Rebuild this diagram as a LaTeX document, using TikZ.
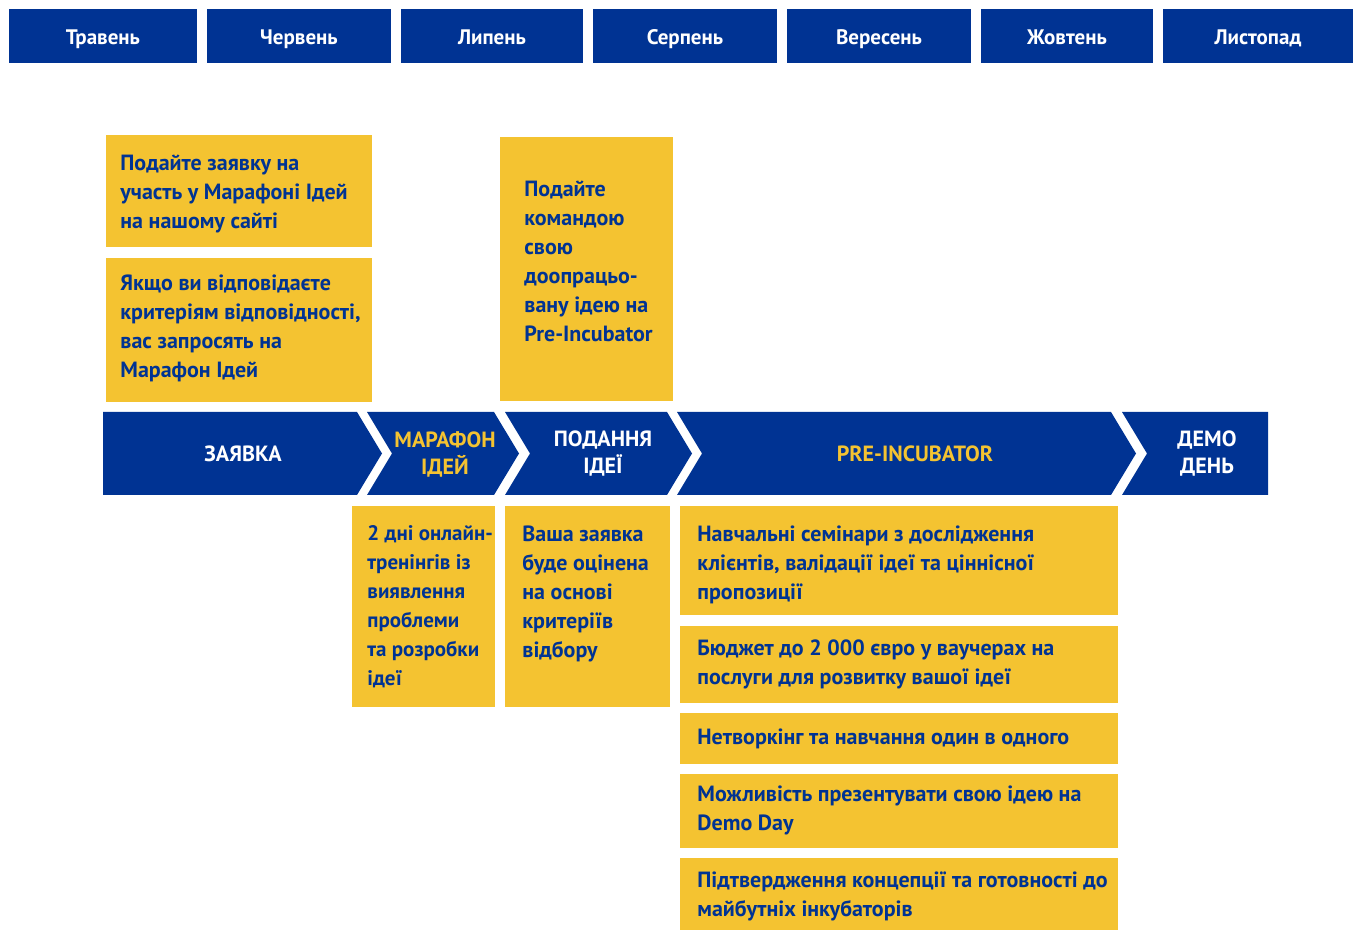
\documentclass[tikz,border=0pt]{standalone}
\usepackage{fontspec}
\setmainfont{PT Sans}
\usetikzlibrary{positioning}
\definecolor{PlanBlue}{HTML}{003393}
\definecolor{PlanGold}{HTML}{F4C331}
\tikzset{
  month/.style={fill=PlanBlue, text=white, inner sep=0pt, minimum height=27pt,
    text height=10.5pt, text depth=2pt,
    font=\bfseries\fontsize{10.5}{12}\selectfont},
  stage/.style={align=center, inner sep=0pt,
    font=\bfseries\fontsize{11}{13.5}\selectfont},
  card/.style={fill=PlanGold, inner sep=0pt, anchor=north west},
  cardtext/.style={align=left, text=PlanBlue, inner sep=0pt,
    font=\bfseries\fontsize{11}{14.5}\selectfont}
}
\begin{document}
\begin{tikzpicture}[x=0.5pt, y=-0.5pt]
  \useasboundingbox (0,0) rectangle (1356,930);
  % months
  \foreach \a/\b/\m [count=\i] in {9/197/Травень, 207/391/Червень, 401/583/Липень,
      593/777/Серпень, 787/971/Вересень, 981/1153/Жовтень, 1163/1353/Листопад}
    \node[month, minimum width=(\b-\a)*0.5pt] (month-\i) at ({(\a+\b)/2},36) {\m};
  % stages
  \foreach \l/\r/\dl/\dr/\c/\x/\txt [count=\i] in {
      103/357/0/25/white/243/ЗАЯВКА,
      367/494/25/25/PlanGold/445/{МАРАФОН\\ІДЕЙ},
      505/667/25/25/white/603/{ПОДАННЯ\\ІДЕЇ},
      677/1111/25/25/PlanGold/915/PRE-INCUBATOR,
      1122/1268/25/0/white/1207/{ДЕМО\\ДЕНЬ}} {
    \fill[PlanBlue] (\l,412) -- (\r,412) -- ({\r+\dr},453.5) -- (\r,495)
      -- (\l,495) -- ({\l+\dl},453.5) -- cycle;
    \node[stage, text=\c] (stage-\i) at (\x,454) {\txt};
  }
  % cards above
  \node[card, minimum width=133pt, minimum height=56pt] (apply) at (106,135) {};
  \node[cardtext, right=7pt of apply.west, anchor=west, yshift=-1.5pt] (apply-text)
    {Подайте заявку на\\участь у Марафоні Ідей\\на нашому сайті};
  \node[card, minimum width=133pt, minimum height=72pt,
    below=5pt of apply.south west, anchor=north west] (invite) {};
  \node[cardtext, right=7pt of invite.west, anchor=west, yshift=1pt] (invite-text)
    {Якщо ви відповідаєте\\критеріям відповідності,\\вас запросять на\\Марафон Ідей};
  \node[card, minimum width=86.5pt, minimum height=132pt] (submit) at (500,137) {};
  \node[cardtext, below right=22pt and 12pt of submit.north west] (submit-text)
    {Подайте\\командою\\свою\\доопрацьо-\\вану ідею на\\Pre-Incubator};
  % cards below
  \node[card, minimum width=71.5pt, minimum height=100.5pt] (training) at (352,506) {};
  \node[cardtext, below right=9.5pt and 7.5pt of training.north west,
    font=\bfseries\fontsize{10.5}{14.5}\selectfont] (training-text)
    {2 дні онлайн-\\тренінгів із\\виявлення\\проблеми\\та розробки\\ідеї};
  \node[card, minimum width=82.5pt, minimum height=100.5pt] (review) at (505,506) {};
  \node[cardtext, below right=9.5pt and 8.5pt of review.north west] (review-text)
    {Ваша заявка\\буде оцінена\\на основі\\критеріїв\\відбору};
  \node[card, minimum width=219pt, minimum height=54.5pt] (seminars) at (680,506) {};
  \node[cardtext, right=8.5pt of seminars.west, anchor=west, yshift=-2pt] (seminars-text)
    {Навчальні семінари з дослідження\\клієнтів, валідації ідеї та ціннісної\\пропозиції};
  \node[card, minimum width=219pt, minimum height=38.5pt,
    below=5pt of seminars.south west, anchor=north west] (budget) {};
  \node[cardtext, right=8.5pt of budget.west, anchor=west] (budget-text)
    {Бюджет до 2 000 євро у ваучерах на\\послуги для розвитку вашої ідеї};
  \node[card, minimum width=219pt, minimum height=25.5pt,
    below=4.5pt of budget.south west, anchor=north west] (network) {};
  \node[cardtext, right=8.5pt of network.west, anchor=west] (network-text)
    {Нетворкінг та навчання один в одного};
  \node[card, minimum width=219pt, minimum height=37pt,
    below=4.5pt of network.south west, anchor=north west] (demo) {};
  \node[cardtext, right=8.5pt of demo.west, anchor=west] (demo-text)
    {Можливість презентувати свою ідею на\\Demo Day};
  \node[card, minimum width=219pt, minimum height=38.5pt,
    below=4.5pt of demo.south west, anchor=north west] (proof) {};
  \node[cardtext, right=8.5pt of proof.west, anchor=west] (proof-text)
    {Підтвердження концепції та готовності до\\майбутніх інкубаторів};
\end{tikzpicture}
\end{document}
